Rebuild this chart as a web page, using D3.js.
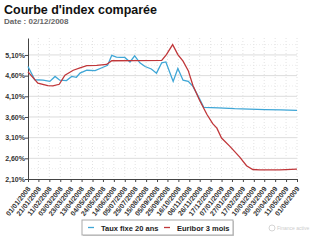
<!DOCTYPE html>
<html>
<head>
<meta charset="utf-8">
<script src="https://cdn.jsdelivr.net/npm/d3@7"></script>
<style>
  body { margin: 0; background: #fff; }
  text { font-family: "Liberation Sans", Arial, sans-serif; }
</style>
</head>
<body>
<div id="chart"></div>
<script>
// chart data
var tickLabels = ["01/01/2008","21/01/2008","11/02/2008","03/03/2008","23/03/2008","13/04/2008",
  "04/05/2008","24/05/2008","14/06/2008","05/07/2008","25/07/2008","15/08/2008","05/09/2008",
  "25/09/2008","16/10/2008","06/11/2008","26/11/2008","17/12/2008","07/01/2009","27/01/2009",
  "17/02/2009","10/03/2009","30/03/2009","20/04/2009","11/05/2009","01/06/2009"];
var yTicks = [2.10, 2.60, 3.10, 3.60, 4.10, 4.60, 5.10];

var tauxDates = ["01/01/2008","14/01/2008","30/01/2008","12/02/2008","22/02/2008","02/03/2008",
  "15/03/2008","25/03/2008","03/04/2008","10/04/2008","23/04/2008","09/05/2008","22/05/2008",
  "02/06/2008","10/06/2008","19/06/2008","26/06/2008","05/07/2008","15/07/2008","24/07/2008",
  "03/08/2008","13/08/2008","25/08/2008","04/09/2008","14/09/2008","22/09/2008","06/10/2008",
  "15/10/2008","25/10/2008","04/11/2008","13/11/2008","24/11/2008","04/12/2008","01/01/2009",
  "01/02/2009","01/03/2009","01/04/2009","01/05/2009","01/06/2009"];
var tauxValues = [4.82, 4.50, 4.49, 4.46, 4.58, 4.49,
  4.48, 4.58, 4.56, 4.66, 4.73, 4.72, 4.79,
  4.85, 5.09, 5.05, 5.04, 5.04, 4.93, 5.08,
  4.91, 4.82, 4.76, 4.66, 4.91, 4.93, 4.46,
  4.77, 4.49, 4.46, 4.34, 4.08, 3.83, 3.82,
  3.80, 3.79, 3.78, 3.77, 3.76];

var euriborDates = ["01/01/2008","20/01/2008","08/02/2008","18/02/2008","01/03/2008","12/03/2008",
  "28/03/2008","10/04/2008","23/04/2008","12/05/2008","31/05/2008","10/06/2008","14/09/2008",
  "23/09/2008","05/10/2008","15/10/2008","25/10/2008","04/11/2008","13/11/2008","26/11/2008",
  "10/12/2008","21/12/2008","29/12/2008","07/01/2009","23/01/2009","11/02/2009","24/02/2009",
  "08/03/2009","21/03/2009","29/04/2009","01/06/2009"];
var euriborValues = [4.69, 4.42, 4.36, 4.35, 4.39, 4.61,
  4.73, 4.79, 4.84, 4.85, 4.87, 4.96, 4.97,
  5.11, 5.35, 5.11, 4.95, 4.72, 4.36, 4.00,
  3.66, 3.44, 3.33, 3.09, 2.89, 2.63, 2.42,
  2.33, 2.32, 2.32, 2.34];

var seriesNames = ["Taux fixe 20 ans", "Euribor 3 mois"];
var colors = ["#3fa6d6", "#c0373a"];

var width = 312, height = 242;
var margin = { top: 38, left: 28, right: 15, bottom: 63 };

var parse = d3.timeParse("%d/%m/%Y");

var svg = d3.select("#chart").append("svg")
  .attr("width", width)
  .attr("height", height);

// title
svg.append("text").attr("x", 4).attr("y", 14)
  .style("font-size", "12.5px").style("font-weight", "bold").attr("fill", "#111")
  .text("Courbe d'index comparée");
svg.append("text").attr("x", 4).attr("y", 24)
  .style("font-size", "8px").style("font-weight", "bold").attr("fill", "#666")
  .text("Date : 02/12/2008");

var x = d3.scaleTime()
  .domain([parse("01/01/2008"), parse("01/06/2009")])
  .range([margin.left, width - margin.right]);

var y = d3.scaleLinear()
  .domain([2.10, 5.51])
  .range([height - margin.bottom, margin.top]);

// gridlines
svg.append("g")
  .selectAll("line")
  .data(yTicks.slice(1))
  .enter().append("line")
  .attr("x1", margin.left).attr("x2", width - margin.right)
  .attr("y1", d => y(d)).attr("y2", d => y(d))
  .attr("stroke", "#dcdcdc").attr("stroke-width", 1);

svg.append("g")
  .selectAll("line")
  .data(yTicks.map(d => d + 0.25))
  .enter().append("line")
  .attr("x1", margin.left).attr("x2", width - margin.right)
  .attr("y1", d => y(d)).attr("y2", d => y(d))
  .attr("stroke", "#ececec").attr("stroke-dasharray", "1,2");

svg.append("g")
  .selectAll("line")
  .data(tickLabels.slice(1))
  .enter().append("line")
  .attr("x1", d => x(parse(d))).attr("x2", d => x(parse(d)))
  .attr("y1", margin.top).attr("y2", height - margin.bottom)
  .attr("stroke", "#e2e2e2").attr("stroke-dasharray", "1,2");

// y axis
var yAxis = svg.append("g")
  .attr("transform", "translate(" + margin.left + ",0)")
  .call(d3.axisLeft(y).tickValues(yTicks).tickSize(3).tickSizeOuter(0)
    .tickFormat(d => d3.format(".2f")(d).replace(".", ",") + "%"));
yAxis.select(".domain").attr("stroke", "#444");
yAxis.selectAll(".tick line").attr("stroke", "#444");
yAxis.selectAll("text").style("font-size", "7px").style("font-weight", "bold")
  .attr("fill", "#333").attr("x", -3);

// x axis
var xAxis = svg.append("g")
  .attr("transform", "translate(0," + (height - margin.bottom) + ")")
  .call(d3.axisBottom(x).tickValues(tickLabels.map(parse)).tickSize(3).tickSizeOuter(0)
    .tickFormat(d3.timeFormat("%d/%m/%Y")));
xAxis.select(".domain").attr("stroke", "#444");
xAxis.selectAll(".tick line").attr("stroke", "#444");
xAxis.selectAll("text")
  .style("font-size", "7px").style("font-weight", "bold").attr("fill", "#333")
  .attr("text-anchor", "end")
  .attr("dy", "0.3em")
  .attr("transform", "translate(-4,5) rotate(-52)");

// lines
var line = d3.line()
  .x(d => x(d.date))
  .y(d => y(d.value));

var tauxData = tauxDates.map((d, i) => ({ date: parse(d), value: tauxValues[i] }));
var euriborData = euriborDates.map((d, i) => ({ date: parse(d), value: euriborValues[i] }));

svg.append("path").datum(tauxData)
  .attr("d", line).attr("fill", "none")
  .attr("stroke", colors[0]).attr("stroke-width", 1.3);

svg.append("path").datum(euriborData)
  .attr("d", line).attr("fill", "none")
  .attr("stroke", colors[1]).attr("stroke-width", 1.3);

// legend
var legend = svg.append("g").attr("transform", "translate(82,220)");
legend.append("rect").attr("x", 1).attr("y", 1).attr("width", 151).attr("height", 15)
  .attr("fill", "#ccc");
legend.append("rect").attr("width", 151).attr("height", 15)
  .attr("fill", "#fff").attr("stroke", "#aaa");
var legendX = [6, 82];
seriesNames.forEach(function (name, i) {
  legend.append("line")
    .attr("x1", legendX[i]).attr("x2", legendX[i] + 6)
    .attr("y1", 7.5).attr("y2", 7.5)
    .attr("stroke", colors[i]).attr("stroke-width", 1.3);
  legend.append("text")
    .attr("x", legendX[i] + 13).attr("y", 10.5)
    .style("font-size", "7.5px").style("font-weight", "bold").attr("fill", "#222")
    .text(name);
});

// watermark
svg.append("circle").attr("cx", 272).attr("cy", 228).attr("r", 3)
  .attr("fill", "none").attr("stroke", "#ccc").attr("stroke-width", 0.8);
svg.append("text").attr("x", 277).attr("y", 230)
  .style("font-size", "5px").attr("fill", "#ccc")
  .text("Finance active");
</script>
</body>
</html>
